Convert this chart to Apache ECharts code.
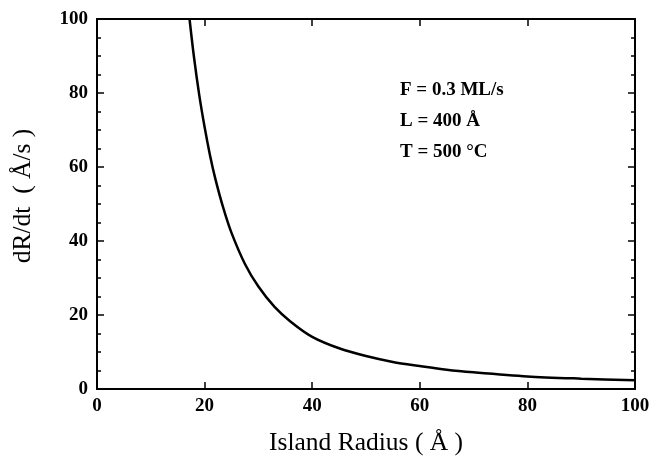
<!DOCTYPE html>
<html>
<head>
<meta charset="utf-8">
<script src="https://cdn.jsdelivr.net/npm/echarts@6/dist/echarts.min.js"></script>
<style>html,body{margin:0;padding:0;background:#fff}#c{width:652px;height:457px}</style>
</head>
<body>
<div id="c"></div>
<script>
const radius = [17.2, 18, 19, 20, 21, 22, 23.5, 25, 27.5, 30, 33, 36, 40, 45, 50, 55, 60, 65, 70, 80, 90, 100];
const rate   = [100, 90, 79.5, 70.8, 63.2, 56.8, 48.8, 42.2, 33.8, 27.7, 22.2, 18.2, 14.1, 11.0, 8.9, 7.3, 6.2, 5.2, 4.5, 3.4, 2.8, 2.35];
const annotations = ['F = 0.3 ML/s', 'L = 400 Å', 'T = 500 °C'];
const xTitle = 'Island Radius ( Å )';
const yTitle = 'dR/dt  ( Å/s )';

const font = 'Liberation Serif';
const chart = echarts.init(document.getElementById('c'), null, {renderer: 'canvas'});
const axisLine = {show: true, onZero: false, lineStyle: {color: '#000', width: 2}};
const tickStyle = {lineStyle: {color: '#000', width: 1.5}};
chart.setOption({
  animation: false,
  backgroundColor: '#fff',
  grid: {left: 97, right: 17, top: 19, bottom: 68, containLabel: false, outerBoundsMode: 'none'},
  xAxis: [{
    type: 'value', min: 0, max: 100, interval: 20, position: 'bottom',
    axisLine: axisLine,
    axisTick: Object.assign({show: true, inside: true, length: 7}, tickStyle),
    minorTick: {show: false},
    splitLine: {show: false},
    axisLabel: {color: '#000', fontFamily: font, fontWeight: 'bold', fontSize: 19, margin: 8},
    name: xTitle, nameLocation: 'middle', nameGap: 41,
    nameTextStyle: {color: '#000', fontFamily: font, fontSize: 25.5}
  }, {
    type: 'value', min: 0, max: 100, interval: 20, position: 'top',
    axisLine: axisLine,
    axisTick: Object.assign({show: true, inside: true, length: 7}, tickStyle),
    splitLine: {show: false},
    axisLabel: {show: false}
  }],
  yAxis: [{
    type: 'value', min: 0, max: 100, interval: 20, position: 'left',
    axisLine: axisLine,
    axisTick: Object.assign({show: true, inside: true, length: 7}, tickStyle),
    minorTick: {show: true, splitNumber: 4, length: 4, lineStyle: {color: '#000', width: 1.5}},
    splitLine: {show: false},
    minorSplitLine: {show: false},
    axisLabel: {color: '#000', fontFamily: font, fontWeight: 'bold', fontSize: 19, margin: 9},
    name: yTitle, nameLocation: 'middle', nameGap: 61,
    nameTextStyle: {color: '#000', fontFamily: font, fontSize: 25.5, padding: [0, 0, 0, 16]}
  }, {
    type: 'value', min: 0, max: 100, interval: 20, position: 'right',
    axisLine: axisLine,
    axisTick: Object.assign({show: true, inside: true, length: 7}, tickStyle),
    minorTick: {show: true, splitNumber: 4, length: 4, lineStyle: {color: '#000', width: 1.5}},
    splitLine: {show: false},
    minorSplitLine: {show: false},
    axisLabel: {show: false}
  }],
  series: [{
    type: 'line', xAxisIndex: 0, yAxisIndex: 0,
    data: radius.map((r, i) => [r, rate[i]]),
    smooth: 0.3, showSymbol: false, clip: true,
    lineStyle: {color: '#000', width: 2.5}
  }],
  graphic: annotations.map((t, i) => ({
    type: 'text', left: 400, top: 81 + i * 31,
    style: {text: t, fill: '#000', font: 'bold 19px "Liberation Serif"'}
  }))
});
</script>
</body>
</html>
